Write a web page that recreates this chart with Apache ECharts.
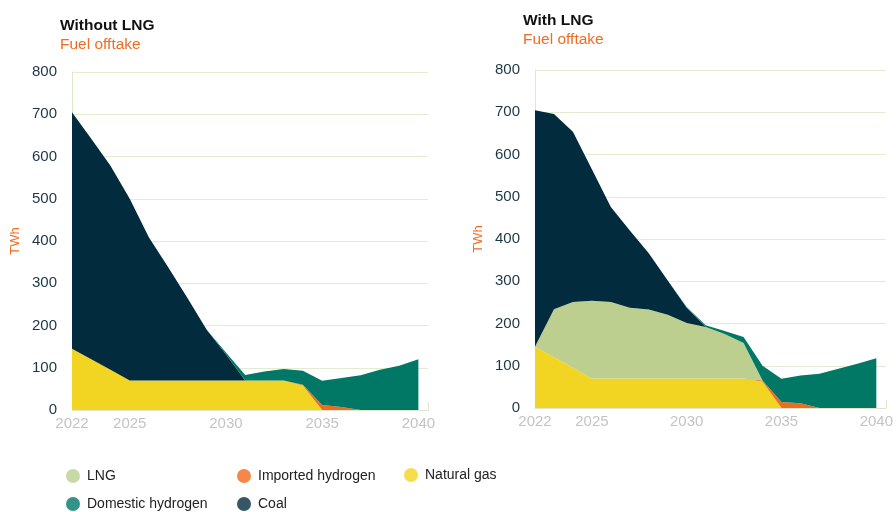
<!DOCTYPE html>
<html>
<head>
<meta charset="utf-8">
<script src="https://cdn.jsdelivr.net/npm/echarts@6/dist/echarts.min.js"></script>
<style>
  html, body { margin: 0; padding: 0; background: #fff; }
  #chart { width: 896px; height: 512px; }
</style>
</head>
<body>
<div id="chart"></div>
<script>
// years on the x axis and the labelled ticks
const years = [2022, 2023, 2024, 2025, 2026, 2027, 2028, 2029, 2030, 2031, 2032, 2033, 2034, 2035, 2036, 2037, 2038, 2039, 2040];
const xTicks = [2022, 2025, 2030, 2035, 2040];

// Without LNG (TWh)
const noLngGas    = [145, 120, 95, 70, 70, 70, 70, 70, 70, 70, 70, 70, 58, 0, 0, 0, 0, 0, 0];
const noLngImpH2  = [0, 0, 0, 0, 0, 0, 0, 0, 0, 0, 0, 0, 2, 12, 7, 0, 0, 0, 0];
const noLngCoal   = [560, 522, 483, 430, 338, 268, 195, 120, 62, 0, 0, 0, 0, 0, 0, 0, 0, 0, 0];
const noLngDomH2  = [0, 0, 0, 0, 0, 0, 0, 0, 4, 13, 21, 27, 33, 57, 69, 82, 95, 105, 120];

// With LNG (TWh)
const lngGas      = [145, 120, 95, 70, 70, 70, 70, 70, 70, 70, 70, 70, 63, 0, 0, 0, 0, 0, 0];
const lngImpH2    = [0, 0, 0, 0, 0, 0, 0, 0, 0, 0, 0, 0, 2, 14, 11, 0, 0, 0, 0];
const lngLng      = [0, 114, 156, 184, 181, 167, 163, 151, 131, 122, 105, 84, 0, 0, 0, 0, 0, 0, 0];
const lngCoal     = [560, 462, 403, 311, 225, 183, 133, 81, 36, 0, 0, 0, 0, 0, 0, 0, 0, 0, 0];
const lngDomH2    = [0, 0, 0, 0, 0, 0, 0, 0, 2, 4, 7, 14, 35, 55, 66, 81, 93, 105, 118];

const colors = {
  "LNG": "#bccf8e",
  "Imported hydrogen": "#f26a1b",
  "Natural gas": "#f2d422",
  "Domestic hydrogen": "#017866",
  "Coal": "#022c3d",
};

const font = "Liberation Sans, Arial, sans-serif";

// one stacked area series.
// value comes first in each point so echarts stacks the TWh and not the year
function area(name, values, idx) {
  return {
    name: name,
    type: "line",
    stack: "total" + idx,
    xAxisIndex: idx,
    yAxisIndex: idx,
    symbol: "none",
    lineStyle: { width: 0 },
    areaStyle: { color: colors[name], opacity: 1 },
    itemStyle: { color: colors[name] },
    encode: { x: 1, y: 0 },
    data: years.map((y, i) => [values[i], y]),
  };
}

function xAxis(idx) {
  return {
    type: "value",
    gridIndex: idx,
    min: 2022,
    max: 2040.5,
    splitLine: { show: false },
    axisLine: { show: true, lineStyle: { color: "#e2e5cc", width: 1 } },
    axisTick: { show: true, inside: true, length: 8, customValues: [2040.5], lineStyle: { color: "#e2e5cc" } },
    axisLabel: {
      customValues: xTicks,
      color: "#c4c4c4",
      fontSize: 15,
      fontFamily: font,
      margin: 6,
      formatter: (v) => String(v),
    },
  };
}

function yAxis(idx) {
  return {
    type: "value",
    gridIndex: idx,
    min: 0,
    max: 800,
    interval: 100,
    name: "TWh",
    nameLocation: "middle",
    nameGap: 50,
    nameTextStyle: { color: "#f26b21", fontSize: 13, fontFamily: font },
    axisLine: { show: true, lineStyle: { color: "#dde8c4", width: 1 } },
    axisTick: { show: false },
    splitLine: { lineStyle: { color: "#e3ebd0", width: 1 } },
    axisLabel: { color: "#1d3547", fontSize: 15, fontFamily: font, margin: 15 },
  };
}

const legendBase = {
  orient: "vertical",
  height: 60,
  icon: "circle", itemWidth: 14, itemHeight: 14, itemGap: 14,
  itemStyle: { opacity: 0.8 },
  textStyle: { fontSize: 14, color: "#222", fontFamily: font, padding: [0, 0, 0, 2] },
  selectedMode: false,
};

const titleText = { fontSize: 15.5, fontWeight: "bold", color: "#111", fontFamily: font };
const subText = { fontSize: 15.5, color: "#f26b21", fontFamily: font };

const chart = echarts.init(document.getElementById("chart"));
chart.setOption({
  animation: false,
  textStyle: { fontFamily: font },
  title: [
    { text: "Without LNG", subtext: "Fuel offtake", left: 60, top: 18, itemGap: 3, padding: 0, textStyle: titleText, subtextStyle: subText },
    { text: "With LNG", subtext: "Fuel offtake", left: 523, top: 13, itemGap: 3, padding: 0, textStyle: titleText, subtextStyle: subText },
  ],
  legend: [
    Object.assign({ data: ["LNG", "Domestic hydrogen"], left: 61, top: 464 }, legendBase),
    Object.assign({ data: ["Imported hydrogen", "Coal"], left: 232, top: 464 }, legendBase),
    Object.assign({ data: ["Natural gas"], left: 399, top: 463 }, legendBase),
  ],
  grid: [
    { left: 72, top: 72, width: 356, height: 338 },
    { left: 535, top: 70, width: 355, height: 338 },
  ],
  xAxis: [xAxis(0), xAxis(1)],
  yAxis: [yAxis(0), yAxis(1)],
  series: [
    area("Natural gas", noLngGas, 0),
    area("Imported hydrogen", noLngImpH2, 0),
    area("Coal", noLngCoal, 0),
    area("Domestic hydrogen", noLngDomH2, 0),
    area("Natural gas", lngGas, 1),
    area("Imported hydrogen", lngImpH2, 1),
    area("LNG", lngLng, 1),
    area("Coal", lngCoal, 1),
    area("Domestic hydrogen", lngDomH2, 1),
  ],
});
</script>
</body>
</html>
